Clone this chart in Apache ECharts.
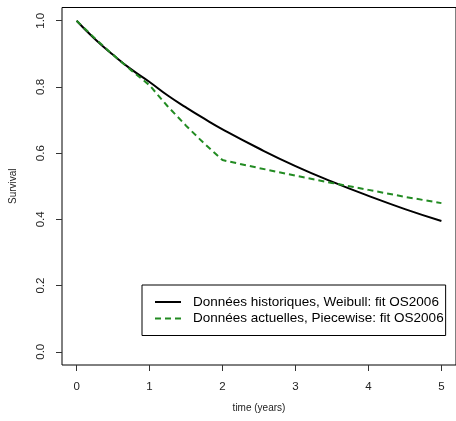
<!DOCTYPE html>
<html>
<head>
<meta charset="utf-8">
<script src="https://cdn.jsdelivr.net/npm/echarts@6/dist/echarts.min.js"></script>
<style>html,body{margin:0;padding:0;background:#fff;}#c{width:456px;height:421px;}</style>
</head>
<body>
<div id="c"></div>
<script>
const timeYears = [0, 0.25, 0.5, 0.75, 1, 1.25, 1.5, 1.75, 2, 2.5, 3, 3.5, 4, 4.5, 5];
const weibullSurv = [1.0, 0.945, 0.897, 0.853, 0.815, 0.774, 0.738, 0.704, 0.672, 0.614, 0.561, 0.514, 0.471, 0.431, 0.395];
const piecewiseSurv = [1.0, 0.947, 0.897, 0.850, 0.805, 0.741, 0.683, 0.629, 0.579, 0.555, 0.532, 0.510, 0.489, 0.468, 0.449];
const xTicks = [0, 1, 2, 3, 4, 5];
const yTicks = [0, 0.2, 0.4, 0.6, 0.8, 1.0];
const seriesNames = ['Données historiques, Weibull: fit OS2006', 'Données actuelles, Piecewise: fit OS2006'];

const chart = echarts.init(document.getElementById('c'), null, {renderer: 'canvas'});
const txt = '#222';
chart.setOption({
  animation: false,
  backgroundColor: '#fff',
  grid: {left: 61, right: -4, top: 7.5, bottom: 56, show: true, borderColor: '#000', borderWidth: 1, backgroundColor: 'transparent'},
  xAxis: {
    type: 'value', min: -0.2, max: 5.2,
    axisLine: {show: false, onZero: false},
    splitLine: {show: false},
    axisTick: {show: true, length: 6, inside: false, customValues: xTicks, lineStyle: {color: '#333'}},
    axisLabel: {customValues: xTicks, margin: 16, fontSize: 11.5, color: txt, fontFamily: 'Liberation Sans',
      formatter: v => String(v)},
    name: 'time (years)', nameLocation: 'middle', nameGap: 38,
    nameTextStyle: {fontSize: 10, color: txt, fontFamily: 'Liberation Sans'}
  },
  yAxis: {
    type: 'value', min: -0.04, max: 1.04,
    axisLine: {show: false, onZero: false},
    splitLine: {show: false},
    axisTick: {show: true, length: 6, inside: false, customValues: yTicks, lineStyle: {color: '#333'}},
    axisLabel: {customValues: yTicks, rotate: 90, margin: 15, fontSize: 11.5, color: txt, fontFamily: 'Liberation Sans',
      formatter: v => v.toFixed(1)},
    name: 'Survival', nameLocation: 'middle', nameGap: 44,
    nameTextStyle: {fontSize: 10, color: txt, fontFamily: 'Liberation Sans'}
  },
  legend: {
    show: true, orient: 'vertical', left: 142, top: 285,
    backgroundColor: '#fff',
    borderColor: '#000', borderWidth: 1, borderRadius: 0,
    padding: [10, 2, 10, 12],
    itemWidth: 26, itemHeight: 14, itemGap: 2.5,
    itemStyle: {opacity: 0, borderWidth: 0},
    textStyle: {fontSize: 13.5, color: '#000', fontFamily: 'Liberation Sans', padding: [0, 0, 0, 7]},
    data: seriesNames
  },
  series: [
    {
      name: seriesNames[0], type: 'line', showSymbol: false, symbol: 'none', smooth: true,
      data: timeYears.map((t, i) => [t, weibullSurv[i]]),
      lineStyle: {color: '#000', width: 2}, itemStyle: {color: '#000'}, z: 3
    },
    {
      name: seriesNames[1], type: 'line', showSymbol: false, symbol: 'none', smooth: false,
      data: timeYears.map((t, i) => [t, piecewiseSurv[i]]),
      lineStyle: {color: '#228B22', width: 2, type: [6, 4]}, itemStyle: {color: '#228B22'}, z: 4
    }
  ]
});
</script>
</body>
</html>
